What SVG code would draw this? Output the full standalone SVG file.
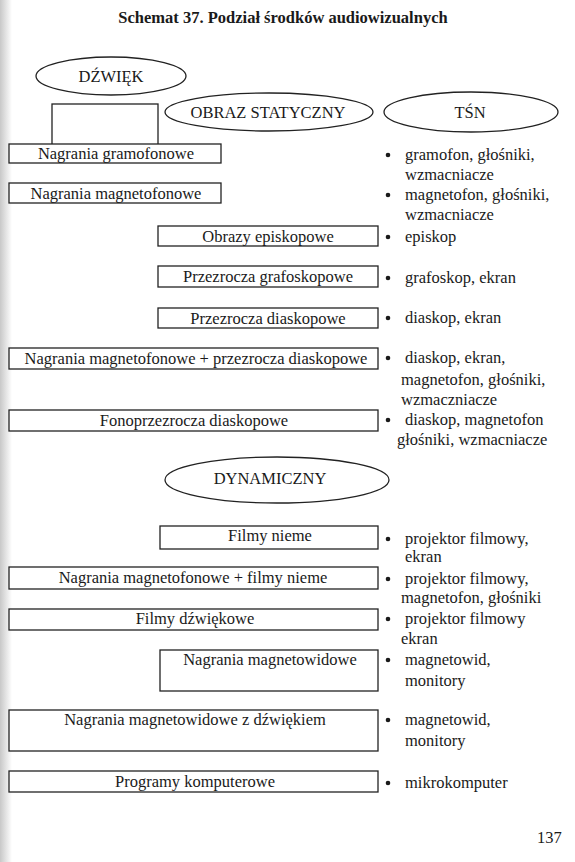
<svg xmlns="http://www.w3.org/2000/svg" width="575" height="862" viewBox="0 0 575 862">
<style>
text{font-family:'Liberation Serif',Tinos,'Times New Roman','DejaVu Serif',serif;font-size:16.5px;fill:#1a1a1a}
.c{text-anchor:middle}
.b{fill:#fff;stroke:#222;stroke-width:1.3}
.e{fill:none;stroke:#222;stroke-width:1.3}
.dot{fill:#1a1a1a}
</style>
<defs>
<linearGradient id="gut" x1="0" x2="1" y1="0" y2="0">
<stop offset="0" stop-color="#c8c8c8"/>
<stop offset="1" stop-color="#ffffff"/>
</linearGradient>
</defs>
<rect width="575" height="862" fill="#fff"/>
<rect x="0" y="0" width="12" height="862" fill="url(#gut)"/>
<text class="c" x="283" y="23" font-weight="bold">Schemat 37. Podział środków audiowizualnych</text>

<g id="connectors">
<rect class="b" x="52" y="104" width="106" height="41"/>
</g>

<g id="dzwiek"><ellipse class="e" cx="111" cy="76" rx="75" ry="19"/><text class="c" x="111" y="82">DŹWIĘK</text></g>
<g id="obraz-statyczny"><ellipse class="e" cx="269" cy="112" rx="104" ry="19"/><text class="c" x="268" y="118">OBRAZ STATYCZNY</text></g>
<g id="tsn"><ellipse class="e" cx="471" cy="112" rx="87" ry="20"/><text class="c" x="470" y="118">TŚN</text></g>

<g id="n1"><rect class="b" x="9" y="144" width="212" height="19"/><text class="c" x="116" y="159">Nagrania gramofonowe</text></g>
<g id="n2"><rect class="b" x="9" y="183" width="212" height="20"/><text class="c" x="116" y="199">Nagrania magnetofonowe</text></g>
<g id="n3"><rect class="b" x="158" y="226" width="220" height="20"/><text class="c" x="268" y="242">Obrazy episkopowe</text></g>
<g id="n4"><rect class="b" x="158" y="266" width="220" height="21"/><text class="c" x="268" y="282">Przezrocza grafoskopowe</text></g>
<g id="n5"><rect class="b" x="158" y="308" width="220" height="20"/><text class="c" x="268" y="324">Przezrocza diaskopowe</text></g>
<g id="n6"><rect class="b" x="9" y="348" width="369" height="21"/><text class="c" x="196" y="364">Nagrania magnetofonowe + przezrocza diaskopowe</text></g>
<g id="n7"><rect class="b" x="9" y="410" width="369" height="21"/><text class="c" x="194" y="426">Fonoprzezrocza diaskopowe</text></g>

<g id="dynamiczny"><ellipse class="e" cx="277" cy="480" rx="112" ry="23"/><text class="c" x="270" y="484">DYNAMICZNY</text></g>

<g id="n8"><rect class="b" x="160" y="526" width="218" height="23"/><text class="c" x="270" y="541">Filmy nieme</text></g>
<g id="n9"><rect class="b" x="9" y="567" width="369" height="22"/><text class="c" x="193" y="583">Nagrania magnetofonowe + filmy nieme</text></g>
<g id="n10"><rect class="b" x="9" y="609" width="369" height="21"/><text class="c" x="195" y="624">Filmy dźwiękowe</text></g>
<g id="n11"><rect class="b" x="160" y="650" width="218" height="41"/><text class="c" x="270" y="665">Nagrania magnetowidowe</text></g>
<g id="n12"><rect class="b" x="9" y="710" width="369" height="41"/><text class="c" x="195" y="725">Nagrania magnetowidowe z dźwiękiem</text></g>
<g id="n13"><rect class="b" x="9" y="771" width="369" height="21"/><text class="c" x="195" y="787">Programy komputerowe</text></g>

<g id="tsn-list">
<circle class="dot" cx="388" cy="155" r="2.3"/>
<text x="405" y="160">gramofon, głośniki,</text>
<text x="405" y="180">wzmacniacze</text>
<circle class="dot" cx="388" cy="195" r="2.3"/>
<text x="405" y="200">magnetofon, głośniki,</text>
<text x="405" y="220">wzmacniacze</text>
<circle class="dot" cx="388" cy="237" r="2.3"/>
<text x="405" y="242">episkop</text>
<circle class="dot" cx="388" cy="278" r="2.3"/>
<text x="405" y="283">grafoskop, ekran</text>
<circle class="dot" cx="388" cy="318" r="2.3"/>
<text x="405" y="323">diaskop, ekran</text>
<circle class="dot" cx="388" cy="358" r="2.3"/>
<text x="405" y="363">diaskop, ekran,</text>
<text x="401" y="385">magnetofon, głośniki,</text>
<text x="401" y="405">wzmaczniacze</text>
<circle class="dot" cx="388" cy="420" r="2.3"/>
<text x="405" y="425">diaskop, magnetofon</text>
<text x="397" y="445">głośniki, wzmacniacze</text>
<circle class="dot" cx="388" cy="539" r="2.3"/>
<text x="405" y="544">projektor filmowy,</text>
<text x="405" y="562">ekran</text>
<circle class="dot" cx="388" cy="579" r="2.3"/>
<text x="405" y="584">projektor filmowy,</text>
<text x="401" y="603">magnetofon, głośniki</text>
<circle class="dot" cx="388" cy="619" r="2.3"/>
<text x="405" y="624">projektor filmowy</text>
<text x="401" y="644">ekran</text>
<circle class="dot" cx="388" cy="660" r="2.3"/>
<text x="405" y="665">magnetowid,</text>
<text x="405" y="686">monitory</text>
<circle class="dot" cx="388" cy="720" r="2.3"/>
<text x="405" y="725">magnetowid,</text>
<text x="405" y="746">monitory</text>
<circle class="dot" cx="388" cy="783" r="2.3"/>
<text x="405" y="788">mikrokomputer</text>
</g>

<text x="537" y="843">137</text>
</svg>
